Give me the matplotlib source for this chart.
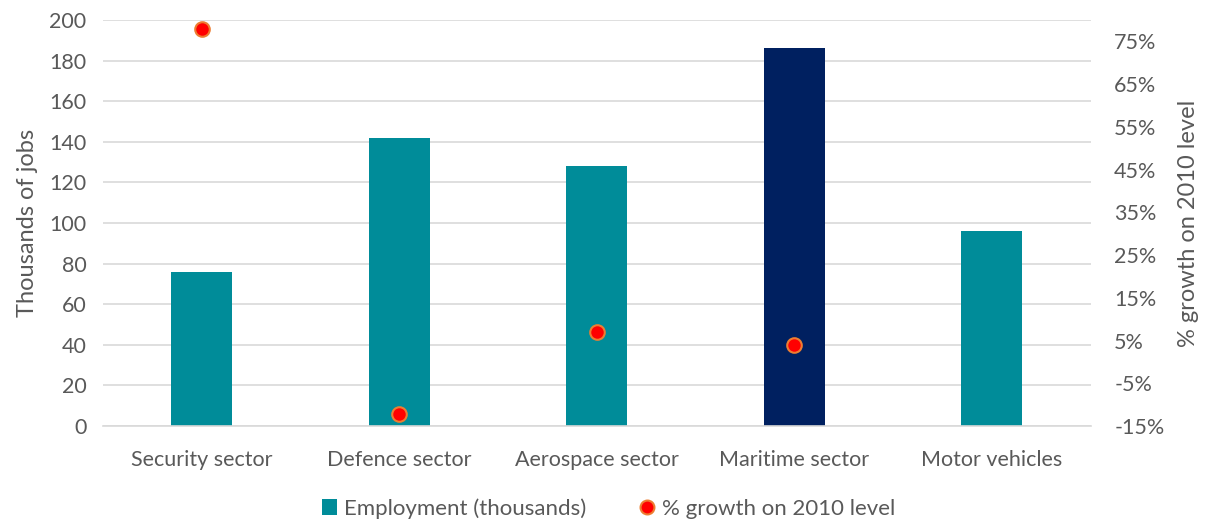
import numpy as np
import matplotlib.pyplot as plt
from matplotlib.lines import Line2D
from matplotlib.patches import Patch

# Datos del gráfico
sectores = ["Security sector", "Defence sector", "Aerospace sector", "Maritime sector", "Motor vehicles"]
empleo = [76, 142, 128, 186, 96]
crecimiento = [77.8, -12.2, 7.0, 3.9, np.nan]
colores_barras = ["#008C99", "#008C99", "#008C99", "#002060", "#008C99"]

plt.rcParams['font.family'] = ['Lato', 'DejaVu Sans']
gris = "#595959"

fig = plt.figure(figsize=(12.05, 5.21), dpi=100)
ax = fig.add_axes([0.0855, 0.1823, 0.8195, 0.7793])

x = np.arange(len(sectores))
ax.bar(x, empleo, width=0.31, color=colores_barras, zorder=2)
ax.set_xlim(-0.5, len(sectores) - 0.5)
ax.set_ylim(0, 200)
ax.set_yticks(np.arange(0, 201, 20))
ax.set_xticks(x)
ax.set_xticklabels(sectores)
ax.grid(axis='y', color="#D9D9D9", linewidth=1.2, zorder=0)
for lado in ['top', 'right', 'left']:
    ax.spines[lado].set_visible(False)
ax.spines['bottom'].set_color("#D9D9D9")
ax.spines['bottom'].set_linewidth(1.2)
ax.tick_params(axis='both', length=0, labelsize=15.5, labelcolor=gris)
ax.tick_params(axis='x', pad=17)
ax.tick_params(axis='y', pad=12)
ax.set_ylabel("Thousands of jobs", fontsize=17, color=gris, labelpad=8)

# Eje secundario
ax2 = ax.twinx()
ax2.scatter(x, crecimiento, s=110, color="#FF0000", edgecolor="#ED7D31", linewidth=1.5, zorder=3)
ax2.set_ylim(-15, 80)
ax2.set_yticks(np.arange(-15, 76, 10))
ax2.set_yticklabels([f"{v}%" for v in range(-15, 76, 10)])
for lado in ['top', 'right', 'left', 'bottom']:
    ax2.spines[lado].set_visible(False)
ax2.tick_params(axis='y', length=0, labelsize=15.5, labelcolor=gris, pad=17)
ax2.set_ylabel("% growth on 2010 level", fontsize=17, color=gris, labelpad=10)

# Leyenda
manejadores = [
    Patch(facecolor="#008C99", label="Employment (thousands)"),
    Line2D([], [], marker='o', linestyle='none', markersize=10, markerfacecolor="#FF0000",
           markeredgecolor="#ED7D31", markeredgewidth=1.5, label="% growth on 2010 level"),
]
leg = fig.legend(handles=manejadores, loc='center', bbox_to_anchor=(0.505, 0.024), ncol=2,
                 frameon=False, fontsize=16, handlelength=0.7, handleheight=0.7,
                 handletextpad=0.3, columnspacing=2.4)
for t in leg.get_texts():
    t.set_color(gris)

plt.savefig("out.png", dpi=100)
